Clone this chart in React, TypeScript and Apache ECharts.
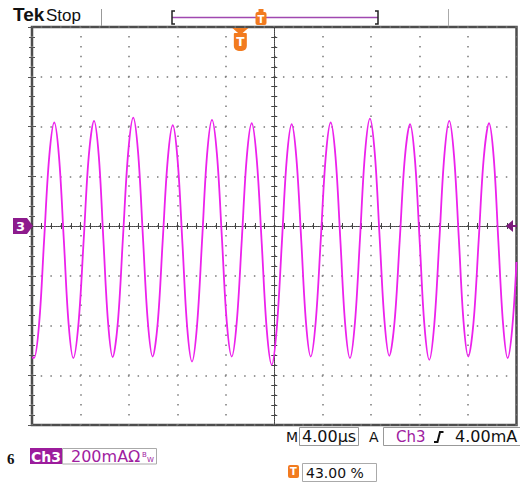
import React, { useEffect, useRef } from "react";
import * as echarts from "echarts";

// Scope settings
const timePerDivUs = 4;
const currentPerDivMa = 200;
const horizontalDivs = 10;
const verticalDivs = 8;
const triggerPositionPct = 43.0;

// Texts
const brandText = "Tek";
const stateText = "Stop";
const channelText = "Ch3";
const channelNumber = "3";
const channelScaleText = "200mAΩ";
const timebaseText = "4.00µs";
const triggerLevelText = "4.00mA";
const triggerPosText = "43.00 %";
const footnoteText = "6";

// Trace: time (µs) and current (mA)
const traceTimeUs = [
  0.0, 0.17, 0.59, 1.0, 1.42, 1.84, 2.23, 2.63, 3.02, 3.41, 3.84, 4.27, 4.69, 5.12,
  5.51, 5.89, 6.28, 6.66, 7.09, 7.51, 7.94, 8.36, 8.76, 9.16, 9.56, 9.96,
  10.38, 10.79, 11.21, 11.62, 12.02, 12.42, 12.81, 13.21, 13.62, 14.04, 14.45, 14.86,
  15.27, 15.68, 16.08, 16.49, 16.9, 17.32, 17.73, 18.14, 18.55, 18.97, 19.38, 19.79,
  20.2, 20.62, 21.03, 21.44, 21.83, 22.23, 22.62, 23.01, 23.42, 23.84, 24.25, 24.66,
  25.06, 25.46, 25.85, 26.25, 26.66, 27.08, 27.49, 27.9, 28.3, 28.7, 29.1, 29.5,
  29.93, 30.36, 30.78, 31.21, 31.61, 32.01, 32.4, 32.8, 33.21, 33.63, 34.04, 34.45,
  34.84, 35.24, 35.63, 36.02, 36.45, 36.88, 37.3, 37.73, 38.12, 38.5, 38.89, 39.27,
  39.64, 40.0,
];
const traceCurrentMa = [
  -528, -530, -391, -57, 277, 416, 278, -58, -392, -531, -391, -54, 283, 423,
  284, -52, -388, -527, -386, -46, 295, 436, 295, -45, -384, -525,
  -389, -60, 269, 405, 266, -70, -406, -545, -403, -59, 285, 427,
  288, -49, -386, -525, -388, -56, 276, 413, 271, -73, -416, -558,
  -416, -75, 267, 409, 272, -58, -388, -525, -387, -55, 278, 416,
  277, -58, -392, -531, -390, -50, 291, 432, 292, -45, -382, -522,
  -386, -57, 273, 409, 270, -65, -400, -538, -397, -58, 282, 423,
  284, -51, -386, -525, -388, -56, 276, 413, 275, -59, -393, -531,
  -415, -145,
];

const GRID_LEFT = 32;
const GRID_TOP = 27;
const GRID_W = 484.5;
const GRID_H = 398;

const PURPLE = "#9c1c9c";
const TEXT_PURPLE = "#a0209f";
const ORANGE = "#f27b1f";
const TRACE = "#ec22ec";

export default function App() {
  const ref = useRef<HTMLDivElement>(null);

  useEffect(() => {
    if (!ref.current) return;
    const chart = echarts.init(ref.current, undefined, { renderer: "svg" });

    const tMax = timePerDivUs * horizontalDivs;
    const iMax = (currentPerDivMa * verticalDivs) / 2;
    const subX = GRID_W / horizontalDivs / 5;
    const subY = GRID_H / verticalDivs / 5;

    const tickStyle = { color: "#555", width: 1 };
    const crossTickStyle = { color: "#444", width: 1 };
    const frameX = (position: string, split: boolean) => ({
      type: "value",
      gridIndex: 0,
      position,
      min: 0,
      max: tMax,
      interval: timePerDivUs,
      axisLine: { show: false },
      axisTick: { show: true, inside: true, length: 4, lineStyle: tickStyle },
      minorTick: { show: true, splitNumber: 5, length: 3, lineStyle: tickStyle },
      axisLabel: { show: false },
      splitLine: {
        show: split,
        lineStyle: { color: "#7a7a7a", width: 1.5, type: [1.5, subY - 1.5], dashOffset: 0.75 },
      },
    });
    const frameY = (position: string, split: boolean) => ({
      type: "value",
      gridIndex: 0,
      position,
      min: -iMax,
      max: iMax,
      interval: currentPerDivMa,
      axisLine: { show: false },
      axisTick: { show: true, inside: true, length: 4, lineStyle: tickStyle },
      minorTick: { show: true, splitNumber: 5, length: 3, lineStyle: tickStyle },
      axisLabel: { show: false },
      splitLine: {
        show: split,
        lineStyle: { color: "#7a7a7a", width: 1.5, type: [1.5, subX - 1.5], dashOffset: 0.75 },
      },
    });
    const crossX = (position: string) => ({
      type: "value",
      gridIndex: 1,
      position,
      min: -tMax / 2,
      max: tMax / 2,
      interval: timePerDivUs,
      axisLine: { show: true, onZero: true, lineStyle: { color: "#444", width: 1, type: [1, 1] } },
      axisTick: { show: true, inside: true, length: 3, lineStyle: crossTickStyle },
      minorTick: { show: true, splitNumber: 5, length: 3, lineStyle: crossTickStyle },
      axisLabel: { show: false },
      splitLine: { show: false },
    });
    const crossY = (position: string) => ({
      type: "value",
      gridIndex: 1,
      position,
      min: -iMax,
      max: iMax,
      interval: currentPerDivMa,
      axisLine: { show: true, onZero: true, lineStyle: { color: "#444", width: 1, type: [1, 1] } },
      axisTick: { show: true, inside: true, length: 3, lineStyle: crossTickStyle },
      minorTick: { show: true, splitNumber: 5, length: 3, lineStyle: crossTickStyle },
      axisLabel: { show: false },
      splitLine: { show: false },
    });

    const trigX = GRID_LEFT + (GRID_W * triggerPositionPct) / 100;
    const chY = GRID_TOP + GRID_H / 2;

    const sans = "DejaVu Sans";

    const graphic: any[] = [
      // header
      { type: "text", left: 13, top: 5, style: { text: brandText, font: "bold 19px 'Liberation Sans'", fill: "#111" } },
      { type: "text", left: 46, top: 7, style: { text: stateText, font: "17px 'Liberation Sans'", fill: "#111" } },
      { type: "line", shape: { x1: 101.5, y1: 9, x2: 101.5, y2: 26 }, style: { stroke: "#999", lineWidth: 1 } },
      { type: "line", shape: { x1: 448.5, y1: 9, x2: 448.5, y2: 26 }, style: { stroke: "#aaa", lineWidth: 1 } },
      { type: "line", shape: { x1: 172, y1: 17.5, x2: 378, y2: 17.5 }, style: { stroke: "#a048b0", lineWidth: 1.5 } },
      { type: "polyline", shape: { points: [[175, 11], [172, 11], [172, 24], [175, 24]] }, style: { stroke: "#222", lineWidth: 1.5, fill: null } },
      { type: "polyline", shape: { points: [[375, 11], [378, 11], [378, 24], [375, 24]] }, style: { stroke: "#222", lineWidth: 1.5, fill: null } },
      // small trigger T on the record bar
      { type: "rect", shape: { x: 258.5, y: 9, width: 5, height: 4 }, style: { fill: ORANGE } },
      { type: "rect", shape: { x: 255.5, y: 12, width: 11, height: 13, r: 2 }, style: { fill: ORANGE } },
      { type: "text", x: 261, y: 19, style: { text: "T", font: "bold 10px 'DejaVu Sans'", fill: "#fff", align: "center", verticalAlign: "middle" } },
      // trigger T under top edge
      { type: "polygon", z: 20, shape: { points: [[trigX - 8, 28], [trigX + 8, 28], [trigX, 35]] }, style: { fill: ORANGE } },
      { type: "rect", z: 20, shape: { x: trigX - 6.5, y: 33, width: 13, height: 18, r: [1, 1, 5, 5] }, style: { fill: ORANGE } },
      { type: "text", z: 21, x: trigX, y: 42, style: { text: "T", font: "bold 12px 'DejaVu Sans'", fill: "#fff", align: "center", verticalAlign: "middle" } },
      // channel ground marker
      { type: "polygon", z: 20, shape: { points: [[13, chY - 8], [27, chY - 8], [33, chY], [27, chY + 8], [13, chY + 8]] }, style: { fill: "#8d1b8d" } },
      { type: "text", z: 21, x: 20.5, y: chY + 0.5, style: { text: channelNumber, font: "bold 13px 'DejaVu Sans'", fill: "#fff", align: "center", verticalAlign: "middle" } },
      // trigger level marker on right
      { type: "polygon", z: 20, shape: { points: [[506, chY], [513, chY - 6], [513, chY + 6]] }, style: { fill: "#7d1a7d" } },
      { type: "line", z: 20, shape: { x1: 512, y1: chY, x2: 517, y2: chY }, style: { stroke: "#7d1a7d", lineWidth: 2 } },
      // footer left
      { type: "text", left: 7, top: 451, style: { text: footnoteText, font: "bold 15px 'Liberation Serif'", fill: "#111" } },
      { type: "rect", shape: { x: 30, y: 448, width: 32, height: 16 }, style: { fill: PURPLE } },
      { type: "text", x: 46, y: 456.5, style: { text: channelText, font: "bold 14px " + sans, fill: "#fff", align: "center", verticalAlign: "middle" } },
      { type: "rect", shape: { x: 62.5, y: 448.5, width: 94, height: 15.5 }, style: { fill: "#fff", stroke: "#aaa", lineWidth: 1 } },
      { type: "text", x: 71, y: 456.5, style: { text: channelScaleText, font: "16px " + sans, fill: TEXT_PURPLE, verticalAlign: "middle" } },
      { type: "text", x: 142, y: 455, style: { text: "B", font: "7px " + sans, fill: TEXT_PURPLE, verticalAlign: "middle" } },
      { type: "text", x: 147, y: 460, style: { text: "W", font: "7px " + sans, fill: TEXT_PURPLE, verticalAlign: "middle" } },
      // footer right
      { type: "text", x: 286, y: 436.5, style: { text: "M", font: "14px " + sans, fill: "#111", verticalAlign: "middle" } },
      { type: "rect", shape: { x: 299.5, y: 427.5, width: 59, height: 18 }, style: { fill: "#fff", stroke: "#999", lineWidth: 1 } },
      { type: "text", x: 302, y: 436.5, style: { text: timebaseText, font: "16px " + sans, fill: "#111", verticalAlign: "middle" } },
      { type: "text", x: 369, y: 436.5, style: { text: "A", font: "14px " + sans, fill: "#111", verticalAlign: "middle" } },
      { type: "rect", shape: { x: 383.5, y: 427.5, width: 140, height: 18 }, style: { fill: "#fff", stroke: "#999", lineWidth: 1 } },
      { type: "text", x: 396, y: 436.5, style: { text: channelText, font: "15px " + sans, fill: TEXT_PURPLE, verticalAlign: "middle" } },
      { type: "polyline", shape: { points: [[434, 442], [437.5, 442], [440, 432], [443.5, 432]] }, style: { stroke: "#111", lineWidth: 2, fill: null } },
      { type: "text", x: 455, y: 436.5, style: { text: triggerLevelText, font: "16px " + sans, fill: "#111", verticalAlign: "middle" } },
      { type: "rect", shape: { x: 288, y: 465, width: 11, height: 13, r: 2 }, style: { fill: ORANGE } },
      { type: "text", x: 293.5, y: 471.5, style: { text: "T", font: "bold 10px " + sans, fill: "#fff", align: "center", verticalAlign: "middle" } },
      { type: "rect", shape: { x: 302.5, y: 463.5, width: 74, height: 18 }, style: { fill: "#fff", stroke: "#aaa", lineWidth: 1 } },
      { type: "text", x: 306, y: 472.5, style: { text: triggerPosText, font: "14px " + sans, fill: "#111", verticalAlign: "middle" } },
    ];

    chart.setOption({
      animation: false,
      backgroundColor: "#fff",
      grid: [
        { left: GRID_LEFT, top: GRID_TOP, width: GRID_W, height: GRID_H, show: true, borderColor: "#4d4d4d", borderWidth: 2.5, backgroundColor: "#fff" },
        { left: GRID_LEFT, top: GRID_TOP, width: GRID_W, height: GRID_H },
      ],
      xAxis: [frameX("bottom", true), frameX("top", false), crossX("bottom"), crossX("top")],
      yAxis: [frameY("left", true), frameY("right", false), crossY("left"), crossY("right")],
      series: [
        {
          type: "line",
          xAxisIndex: 0,
          yAxisIndex: 0,
          data: traceTimeUs.map((t, i) => [t, traceCurrentMa[i]]),
          showSymbol: false,
          smooth: 0.35,
          lineStyle: { color: TRACE, width: 1.8 },
          z: 5,
        },
      ],
      graphic,
    });

    return () => chart.dispose();
  }, []);

  return (
    <div
      ref={ref}
      style={{ position: "absolute", left: 0, top: 0, width: 520, height: 484, background: "#fff" }}
    />
  );
}
